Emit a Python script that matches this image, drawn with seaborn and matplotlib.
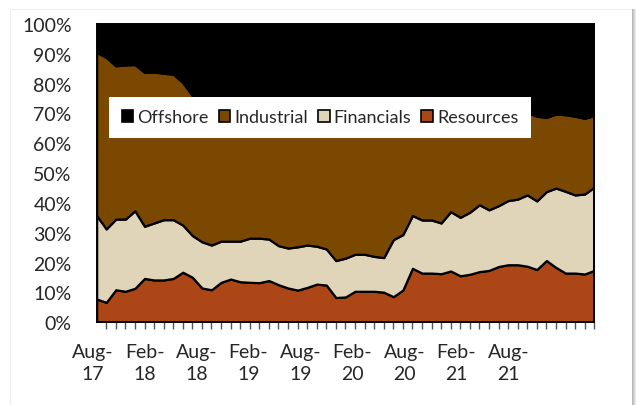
import matplotlib
matplotlib.use('Agg')
import matplotlib.pyplot as plt
import matplotlib.transforms as mtransforms
from matplotlib.patches import Patch, Rectangle
import numpy as np
import pandas as pd
import seaborn as sns

# share of portfolio (%) per month, Aug-17 .. Dec-21
resources = [7.8, 6.7, 10.9, 10.4, 11.4, 14.7, 14.2, 14.2, 14.7, 16.8,
             15.1, 11.5, 10.9, 13.4, 14.5, 13.6, 13.4, 13.3, 14.0, 12.6,
             11.5, 10.8, 11.7, 12.8, 12.5, 8.3, 8.5, 10.4, 10.4, 10.4,
             10.1, 8.6, 10.8, 18.1, 16.5, 16.5, 16.3, 17.2, 15.6, 16.1,
             17.0, 17.4, 18.7, 19.3, 19.3, 18.8, 17.7, 20.7, 18.4, 16.5,
             16.5, 16.2, 17.4]
financials = [28.0, 24.6, 23.7, 24.2, 26.0, 17.5, 19.1, 20.2, 19.7, 15.8,
              14.0, 15.5, 15.0, 13.8, 12.7, 13.6, 14.8, 14.9, 13.9, 13.1,
              13.4, 14.5, 14.2, 12.7, 12.1, 12.4, 13.0, 12.4, 12.4, 11.7,
              11.6, 19.1, 18.6, 17.7, 17.8, 17.8, 17.0, 19.9, 19.6, 20.8,
              22.4, 20.3, 20.4, 21.5, 22.0, 23.9, 23.0, 23.1, 26.6, 27.4,
              26.2, 26.8, 27.9]
industrial = [54.7, 57.5, 51.4, 51.7, 49.0, 51.6, 50.6, 49.1, 48.8, 47.8,
              46.9, 48.2, 48.9, 47.7, 47.1, 46.8, 45.6, 45.7, 45.3, 47.1,
              48.0, 47.1, 46.7, 46.6, 47.2, 50.5, 50.0, 48.6, 48.2, 48.8,
              48.9, 43.3, 41.4, 35.5, 36.7, 36.4, 37.6, 34.1, 35.6, 33.7,
              31.5, 32.8, 31.7, 29.8, 29.6, 27.7, 28.4, 24.9, 24.8, 25.7,
              26.4, 25.4, 24.0]
offshore = [9.5, 11.2, 14.0, 13.7, 13.6, 16.2, 16.1, 16.5, 16.8, 19.6,
            24.0, 24.8, 25.2, 25.1, 25.7, 26.0, 26.2, 26.1, 26.8, 27.2,
            27.1, 27.6, 27.4, 27.9, 28.2, 28.8, 28.5, 28.6, 29.0, 29.1,
            29.4, 29.0, 29.2, 28.7, 29.0, 29.3, 29.1, 28.8, 29.2, 29.4,
            29.1, 29.5, 29.2, 29.4, 29.1, 29.6, 30.9, 31.3, 30.2, 30.4,
            30.9, 31.6, 30.7]
months = pd.date_range("2017-08-01", periods=len(resources), freq="MS")
tick_labels = ["Aug-\n17", "Feb-\n18", "Aug-\n18", "Feb-\n19", "Aug-\n19",
               "Feb-\n20", "Aug-\n20", "Feb-\n21", "Aug-\n21"]

df = pd.DataFrame({"Resources": resources, "Financials": financials,
                   "Industrial": industrial, "Offshore": offshore}, index=months)

colors = {"Resources": "#ad4616", "Financials": "#e0d4b9",
          "Industrial": "#7a4800", "Offshore": "#000000"}

sns.set_style("white")
plt.rcParams["font.family"] = ["Lato", "DejaVu Sans"]

fig = plt.figure(figsize=(6.36, 4.06), dpi=100)
ax = fig.add_axes([0.152, 0.2037, 0.7823, 0.7347])

x = np.arange(len(df))
order = ["Resources", "Financials", "Industrial", "Offshore"]
ax.stackplot(x, *[df[c].values / 100 for c in order],
             colors=[colors[c] for c in order],
             edgecolor="black", linewidth=1.6)

ax.set_xlim(0, len(df) - 1)
ax.set_ylim(0, 1)
ax.set_yticks(np.arange(0, 1.01, 0.1))
ax.set_yticklabels([f"{int(round(v * 100))}%" for v in np.arange(0, 1.01, 0.1)])
ax.tick_params(axis="y", length=6, width=1.2, color="black", pad=12, labelsize=14)

ax.set_xticks(x, minor=True)
ax.set_xticks(np.arange(len(tick_labels)) * 5.43)
ax.set_xticklabels(tick_labels, linespacing=1.35)
ax.tick_params(axis="x", which="major", length=0, pad=15, labelsize=14)
ax.tick_params(axis="x", which="minor", length=5, width=1, color="#555555", bottom=True)
shift = mtransforms.ScaledTranslation(-4 / 100, 0, fig.dpi_scale_trans)
for lab in ax.get_xticklabels():
    lab.set_transform(lab.get_transform() + shift)

for side in ["left", "bottom", "right", "top"]:
    ax.spines[side].set_color("black")
    ax.spines[side].set_linewidth(1.4)

handles = [Patch(facecolor=colors[c], edgecolor="black", linewidth=1.2, label=c)
           for c in ["Offshore", "Industrial", "Financials", "Resources"]]
leg = ax.legend(handles=handles, ncol=4, loc="center", bbox_to_anchor=(0.449, 0.687),
                frameon=True, fancybox=False, framealpha=1, edgecolor="white",
                fontsize=13, handlelength=0.65, handleheight=0.65,
                handletextpad=0.22, columnspacing=0.55, borderpad=0.68)
leg.get_frame().set_linewidth(0)

# faint chart frame with shadow on the right
fig.patches.append(Rectangle((10 / 636, -0.01), 622 / 636, (396 / 406) + 0.01,
                             transform=fig.transFigure, fill=False,
                             edgecolor="#eeeeee", linewidth=0.8))
for i, c in enumerate(["#b8b8b8", "#c8c8c8", "#dadada", "#ececec"]):
    fig.patches.append(Rectangle(((632 + i) / 636, 0), 1 / 636, 396 / 406,
                                 transform=fig.transFigure, color=c, linewidth=0))

fig.savefig("out.png", dpi=100)
